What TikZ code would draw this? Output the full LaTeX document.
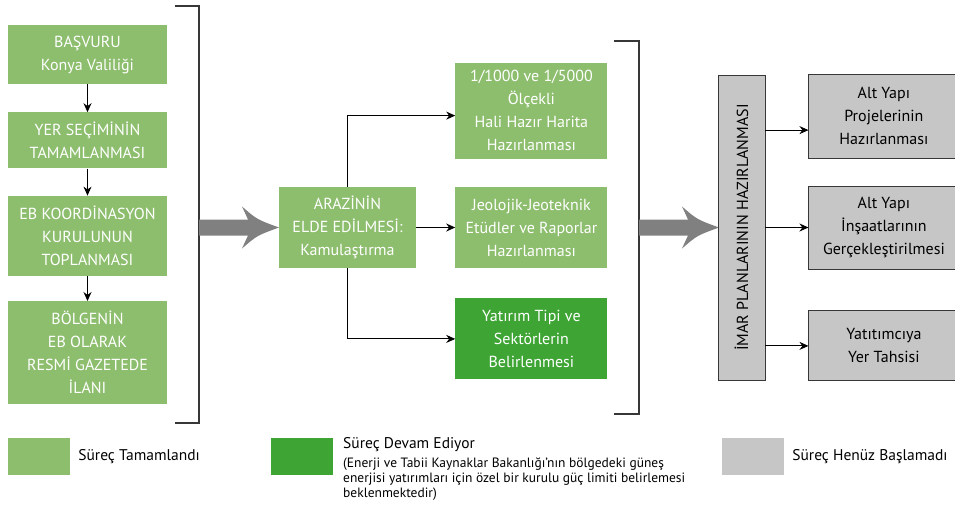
\documentclass[tikz,border=0pt]{standalone}
\usepackage{fontspec}
\setmainfont{PT Sans}
\usetikzlibrary{positioning, arrows.meta}

\definecolor{doneGreen}{RGB}{141,190,110}
\definecolor{runGreen}{RGB}{62,165,53}
\definecolor{waitGray}{RGB}{198,198,198}
\definecolor{arrowGray}{RGB}{128,128,128}
\definecolor{lineGray}{RGB}{55,55,55}

\tikzset{
  box/.style={inner sep=0pt, align=center, font=\fontsize{16}{23}\selectfont},
  done/.style={box, fill=doneGreen, text=white},
  running/.style={box, fill=runGreen, text=white},
  waiting/.style={box, fill=waitGray, draw=lineGray, line width=0.9pt, text=black},
  link/.style={-{Stealth[length=9pt,width=8pt]}, line width=0.9pt},
  bracket/.style={draw=lineGray, line width=1.4pt},
  legbox/.style={minimum width=62pt, minimum height=37pt, inner sep=0pt},
  legtext/.style={anchor=west, inner sep=0pt, font=\fontsize{15.5}{20}\selectfont},
  bigarrow/.pic={
    \fill[arrowGray] (0,-8) -- (49,-8) -- (43,-21) .. controls (58,-8) .. (80,0)
      .. controls (58,8) .. (43,21) -- (49,8) -- (0,8) -- cycle;
  }
}

\begin{document}
\begin{tikzpicture}[x=1pt, y=-1pt]
        \useasboundingbox (0,0) rectangle (955,512);

        % tamamlanan ilk adimlar
        \node [done, minimum width=159pt, minimum height=59pt] (basvuru) at (87.5,54.5) {BAŞVURU\\Konya Valiliği};
        \node [done, minimum width=159pt, minimum height=56pt, below=28pt of basvuru] (yersecimi) {YER SEÇİMİNİN\\TAMAMLANMASI};
        \node [done, minimum width=159pt, minimum height=80pt, below=27pt of yersecimi] (kurul) {EB KOORDİNASYON\\KURULUNUN\\TOPLANMASI};
        \node [done, minimum width=159pt, minimum height=103pt, below=25pt of kurul] (ilan) {BÖLGENİN\\EB OLARAK\\RESMİ GAZETEDE\\İLANI};

        \draw [link] (basvuru) -- (yersecimi);
        \draw [link] (yersecimi) -- (kurul);
        \draw [link] (kurul) -- (ilan);

        \draw [bracket] (175,6) -- (199,6) -- (199,423) -- (175,423);
        \pic at (199,227.5) {bigarrow};

        % arazi ve alt adimlar
        \node [done, minimum width=137pt, minimum height=81pt] (arazi) at (347.5,227.5) {ARAZİNİN\\ELDE EDİLMESİ:\\Kamulaştırma};
        \node [done, minimum width=152pt, minimum height=81pt, right=39pt of arazi] (jeoloji) {Jeolojik-Jeoteknik\\Etüdler ve Raporlar\\Hazırlanması};
        \node [done, minimum width=152pt, minimum height=96pt, above=28pt of jeoloji] (harita) {1/1000 ve 1/5000\\Ölçekli\\Hali Hazır Harita\\Hazırlanması};
        \node [running, minimum width=152pt, minimum height=81pt, below=30pt of jeoloji] (yatirim) {Yatırım Tipi ve\\Sektörlerin\\Belirlenmesi};

        \coordinate (haritain) at ([yshift=-5pt]harita.west);
        \draw [link] (arazi.north) |- (haritain);
        \draw [link] (arazi) -- (jeoloji);
        \draw [link] (arazi.south) |- (yatirim.west);

        \draw [bracket] (614,41) -- (639,41) -- (639,414) -- (614,414);
        \pic at (639,227.5) {bigarrow};

        % henuz baslamayan adimlar
        \node [waiting, minimum width=47pt, minimum height=305pt] (imar) at (741.5,227.5) {\rotatebox{90}{İMAR PLANLARININ HAZIRLANMASI}};
        \node [waiting, minimum width=150pt, minimum height=83pt, right=43pt of imar] (insaat) {Alt Yapı\\İnşaatlarının\\Gerçekleştirilmesi};
        \node [waiting, minimum width=150pt, minimum height=84pt, above=27pt of insaat] (proje) {Alt Yapı\\Projelerinin\\Hazırlanması};
        \node [waiting, minimum width=150pt, minimum height=70pt, below=41pt of insaat] (tahsis) {Yatıtımcıya\\Yer Tahsisi};

        \coordinate (projein) at ([yshift=-14pt]proje.west);
        \draw [link] (imar.east |- projein) -- (projein);
        \draw [link] (imar.east |- insaat.west) -- (insaat.west);
        \draw [link] (imar.east |- tahsis.west) -- (tahsis.west);

        % lejant
        \node [legbox, fill=doneGreen] (legdone) at (39,456.5) {};
        \node [legtext, right=8pt of legdone] (legdonetext) {Süreç Tamamlandı};
        \node [legbox, fill=runGreen] (legrun) at (302,456.5) {};
        \node [legtext] (legruntext) at (343,445) {Süreç Devam Ediyor};
        \node [anchor=north west, inner sep=0pt, align=left, font=\fontsize{13.5}{15}\selectfont] (legnote) at (343,457.5) {(Enerji ve Tabii Kaynaklar Bakanlığı’nın bölgedeki güneş\\enerjisi yatırımları için özel bir kurulu güç limiti belirlemesi\\beklenmektedir)};
        \node [legbox, fill=waitGray] (legwait) at (753,456.5) {};
        \node [legtext, right=8pt of legwait] (legwaittext) {Süreç Henüz Başlamadı};
    \end{tikzpicture}
\end{document}
